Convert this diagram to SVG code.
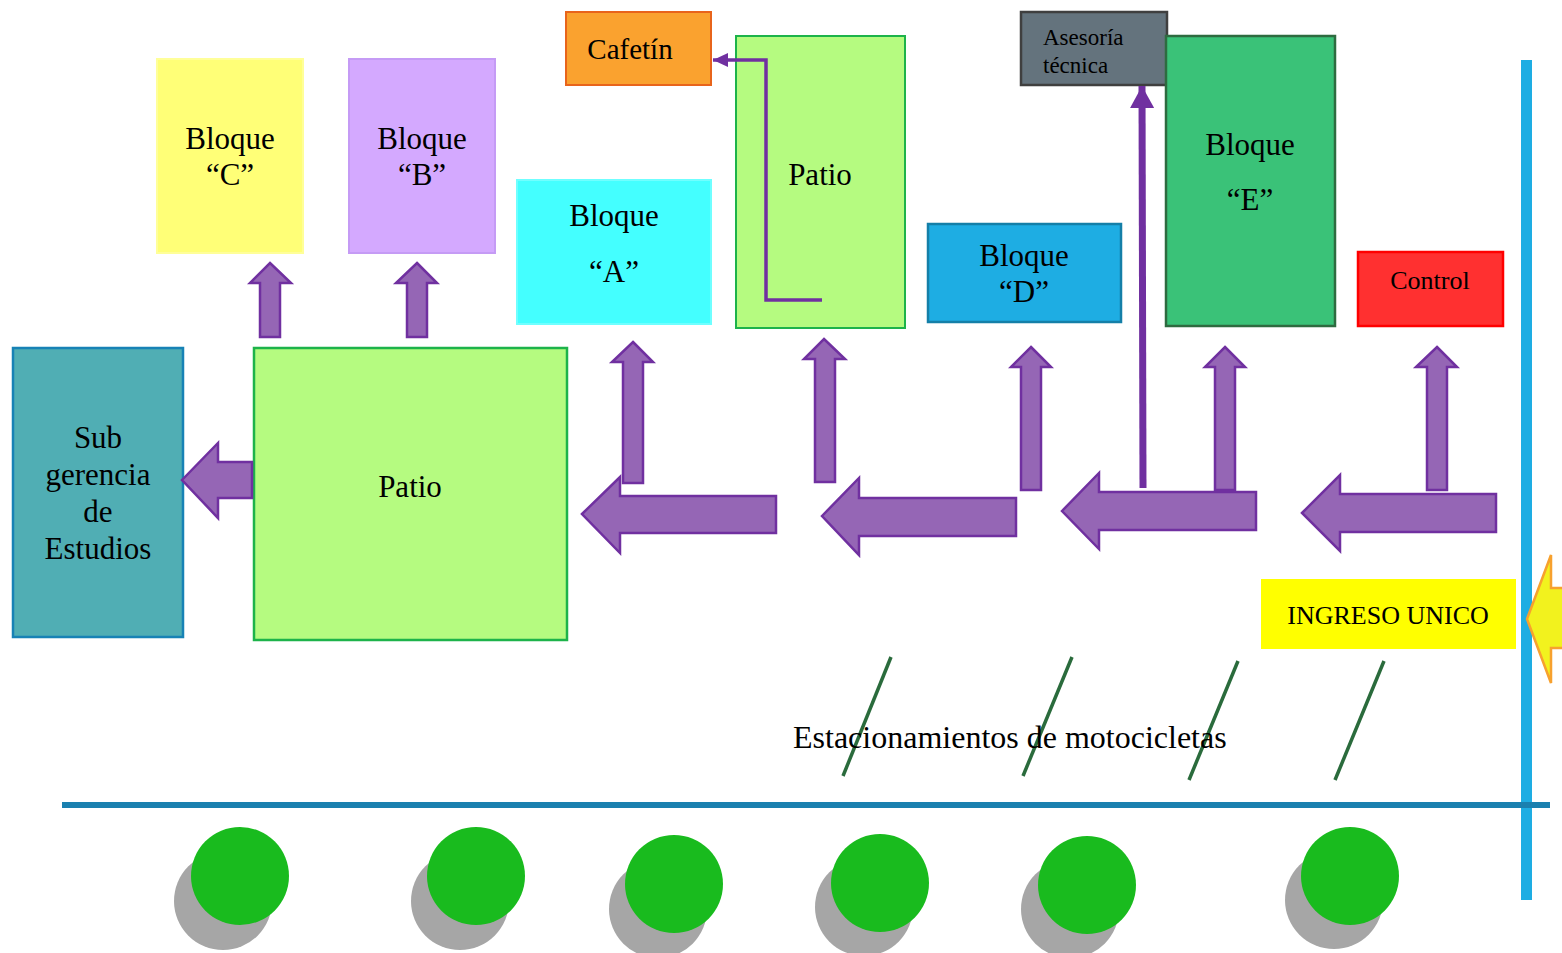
<svg xmlns="http://www.w3.org/2000/svg" width="1562" height="953" viewBox="0 0 1562 953">
<defs>
<style>
text{font-family:"Liberation Serif","Times New Roman",serif;fill:#000}
.t{font-size:31px;text-anchor:middle}
.blk{fill:#9566B5;stroke:#7030A0;stroke-width:2.5;stroke-linejoin:miter}
.slash{stroke:#2A6B3C;stroke-width:3.5;fill:none}
.sh{fill:#A6A6A6}
.gr{fill:#19BB1E}
</style>
<marker id="ah" markerWidth="16" markerHeight="14" refX="15" refY="7" orient="auto" markerUnits="userSpaceOnUse">
<path d="M0,0 L15,7 L0,14 Z" fill="#7030A0"/>
</marker>
<marker id="ah2" markerWidth="26" markerHeight="24" refX="22" refY="12" orient="auto" markerUnits="userSpaceOnUse">
<path d="M0,0 L22,12 L0,24 Z" fill="#7030A0"/>
</marker>
</defs>
<rect width="1562" height="953" fill="#fff"/>

<!-- road / boundary lines -->
<rect x="1521" y="60" width="11" height="840" fill="#1EADE3"/>
<line x1="62" y1="805" x2="1550" y2="805" stroke="#1A80AF" stroke-width="6"/>

<g id="bloque-c">
<rect x="157" y="59" width="146" height="194" fill="#FFFF77" stroke="#FFFF99" stroke-width="2"/>
<text class="t" x="230" y="149">Bloque</text>
<text class="t" x="230" y="185">“C”</text>
</g>
<g id="bloque-b">
<rect x="349" y="59" width="146" height="194" fill="#D4A9FF" stroke="#C59BF5" stroke-width="2"/>
<text class="t" x="422" y="149">Bloque</text>
<text class="t" x="422" y="185">“B”</text>
</g>
<g id="bloque-a">
<rect x="517" y="180" width="194" height="144" fill="#44FFFF" stroke="#6FFFFF" stroke-width="2"/>
<text class="t" x="614" y="226">Bloque</text>
<text class="t" x="614" y="282">“A”</text>
</g>
<g id="cafetin">
<rect x="566" y="12" width="145" height="73" fill="#FAA22F" stroke="#E8641B" stroke-width="2"/>
<text class="t" x="630" y="59" style="font-size:29px">Cafetín</text>
</g>
<g id="patio-superior">
<rect x="736" y="36" width="169" height="292" fill="#B5FB80" stroke="#1DB34A" stroke-width="2"/>
<text class="t" x="820" y="185">Patio</text>
</g>
<g id="asesoria">
<rect x="1021" y="12" width="146" height="73" fill="#64737D" stroke="#3F3F3F" stroke-width="2.5"/>
<text x="1043" y="45" style="font-size:23px">Asesoría</text>
<text x="1043" y="73" style="font-size:23px">técnica</text>
</g>
<g id="bloque-e">
<rect x="1166" y="36" width="169" height="290" fill="#3AC278" stroke="#2E6B40" stroke-width="2.5"/>
<text class="t" x="1250" y="155">Bloque</text>
<text class="t" x="1250" y="210">“E”</text>
</g>
<g id="bloque-d">
<rect x="928" y="224" width="193" height="98" fill="#1EADE3" stroke="#147FA8" stroke-width="2.5"/>
<text class="t" x="1024" y="266">Bloque</text>
<text class="t" x="1024" y="302">“D”</text>
</g>
<g id="control">
<rect x="1358" y="252" width="145" height="74" fill="#FF3030" stroke="#FF0000" stroke-width="2.5"/>
<text class="t" x="1430" y="289" style="font-size:26px">Control</text>
</g>
<g id="subgerencia">
<rect x="13" y="348" width="170" height="289" fill="#50AEB4" stroke="#1782B5" stroke-width="2.5"/>
<text class="t" x="98" y="448">Sub</text>
<text class="t" x="98" y="485">gerencia</text>
<text class="t" x="98" y="522">de</text>
<text class="t" x="98" y="559">Estudios</text>
</g>
<g id="patio-principal">
<rect x="254" y="348" width="313" height="292" fill="#B5FB80" stroke="#1DB34A" stroke-width="2.5"/>
<text class="t" x="410" y="497">Patio</text>
</g>
<g id="ingreso">
<rect x="1261" y="579" width="255" height="70" fill="#FFFF00"/>
<text class="t" x="1388" y="624" style="font-size:26px">INGRESO UNICO</text>
</g>

<g id="conectores">
<!-- up arrows to C and B -->
<path class="blk" d="M270,263 L291,283 L280,283 L280,337 L260,337 L260,283 L250,283 Z"/>
<path class="blk" d="M417,263 L437,283 L427,283 L427,337 L407,337 L407,283 L396,283 Z"/>
<!-- arrow to Sub gerencia -->
<path class="blk" d="M182,480 L218,443 L218,462 L252,462 L252,498 L218,498 L218,518 Z"/>
<!-- up arrows -->
<path class="blk" d="M633,342 L653,362 L643,362 L643,483 L623,483 L623,362 L612,362 Z"/>
<path class="blk" d="M824,339 L845,359 L835,359 L835,482 L815,482 L815,359 L804,359 Z"/>
<path class="blk" d="M1031,347 L1051,367 L1041,367 L1041,490 L1021,490 L1021,367 L1011,367 Z"/>
<path class="blk" d="M1225,347 L1245,367 L1235,367 L1235,490 L1215,490 L1215,367 L1205,367 Z"/>
<path class="blk" d="M1437,347 L1457,367 L1447,367 L1447,490 L1427,490 L1427,367 L1416,367 Z"/>
<!-- left arrows -->
<path class="blk" d="M582,514 L620,477 L620,496 L776,496 L776,533 L620,533 L620,553 Z"/>
<path class="blk" d="M822,516 L859,478 L859,498 L1016,498 L1016,536 L859,536 L859,555 Z"/>
<path class="blk" d="M1062,511 L1099,473 L1099,492 L1256,492 L1256,530 L1099,530 L1099,549 Z"/>
<path class="blk" d="M1302,513 L1340,475 L1340,494 L1496,494 L1496,532 L1340,532 L1340,551 Z"/>
<!-- thin arrow to Asesoria -->
<line x1="1143" y1="488" x2="1142" y2="86" stroke="#7030A0" stroke-width="7" marker-end="url(#ah2)"/>
<!-- path to Cafetin -->
<polyline points="822,300 766,300 766,60 713,60" fill="none" stroke="#7030A0" stroke-width="3.5" marker-end="url(#ah)"/>
<!-- entrance arrow -->
<path d="M1527,619 L1551,555 L1551,588 L1570,588 L1570,648 L1551,648 L1551,683 Z" fill="#F2F21E" stroke="#F7A12E" stroke-width="2.5"/>
</g>

<g id="estacionamientos">
<line class="slash" x1="891" y1="657" x2="843" y2="776"/>
<line class="slash" x1="1072" y1="657" x2="1023" y2="776"/>
<line class="slash" x1="1238" y1="661" x2="1189" y2="780"/>
<line class="slash" x1="1384" y1="661" x2="1335" y2="780"/>
<text x="793" y="748" style="font-size:32px">Estacionamientos de motocicletas</text>
</g>

<g id="arboles">
<ellipse class="sh" cx="223" cy="901" rx="49" ry="49"/>
<ellipse class="gr" cx="240" cy="876" rx="49" ry="49"/>
<ellipse class="sh" cx="460" cy="901" rx="49" ry="49"/>
<ellipse class="gr" cx="476" cy="876" rx="49" ry="49"/>
<ellipse class="sh" cx="658" cy="909" rx="49" ry="49"/>
<ellipse class="gr" cx="674" cy="884" rx="49" ry="49"/>
<ellipse class="sh" cx="864" cy="907" rx="49" ry="49"/>
<ellipse class="gr" cx="880" cy="883" rx="49" ry="49"/>
<ellipse class="sh" cx="1070" cy="909" rx="49" ry="49"/>
<ellipse class="gr" cx="1087" cy="885" rx="49" ry="49"/>
<ellipse class="sh" cx="1334" cy="900" rx="49" ry="49"/>
<ellipse class="gr" cx="1350" cy="876" rx="49" ry="49"/>
</g>
</svg>
